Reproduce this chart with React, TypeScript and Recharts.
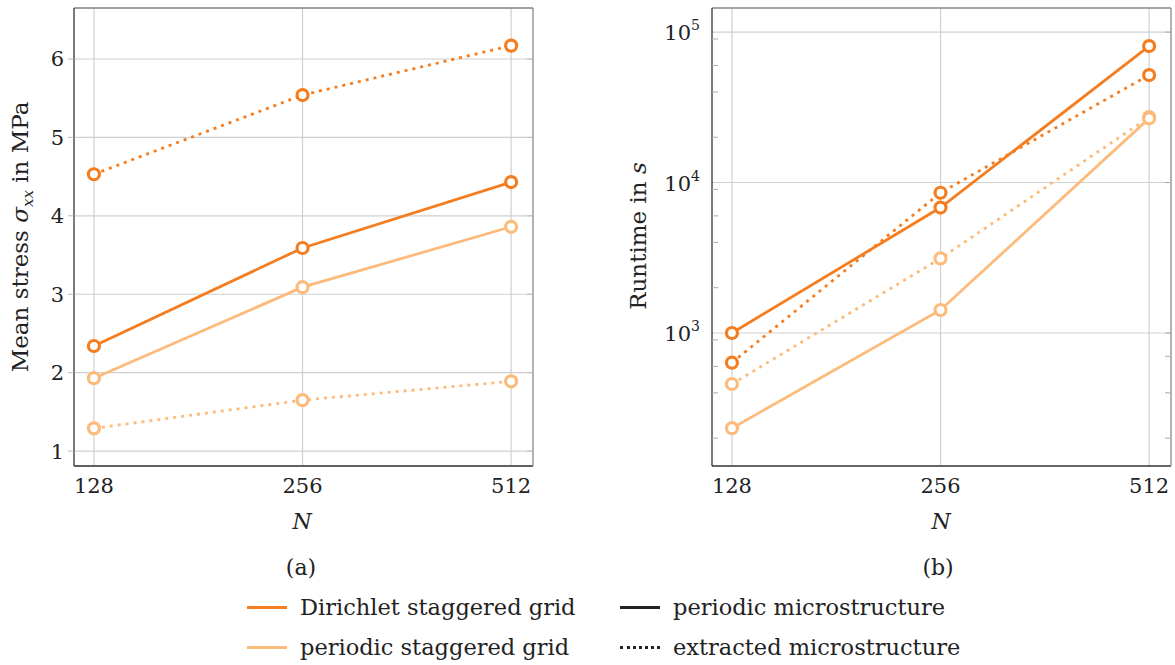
import React from "react";
import { LineChart, Line, XAxis, YAxis, CartesianGrid } from "recharts";

const DARK = "#f47d20";
const LIGHT = "#fdbb7b";
const FONT = "DejaVu Serif";

const N = [128, 256, 512];

// (a) mean stress in MPa
const stressDirichletPeriodic = [2.34, 3.59, 4.43];
const stressDirichletExtracted = [4.53, 5.54, 6.17];
const stressPeriodicPeriodic = [1.93, 3.09, 3.86];
const stressPeriodicExtracted = [1.29, 1.65, 1.89];
const stressTicks = [1, 2, 3, 4, 5, 6];

// (b) runtime in s
const runDirichletPeriodic = [1000, 6820, 80700];
const runDirichletExtracted = [635, 8550, 51800];
const runPeriodicPeriodic = [233, 1422, 26700];
const runPeriodicExtracted = [458, 3130, 27200];
const runTicks = [1000, 10000, 100000];
const runMinorTicks = [
  200, 300, 400, 500, 600, 700, 800, 900,
  2000, 3000, 4000, 5000, 6000, 7000, 8000, 9000,
  20000, 30000, 40000, 50000, 60000, 70000, 80000, 90000,
];

const stressData = N.map((n, i) => ({
  n,
  dp: stressDirichletPeriodic[i],
  de: stressDirichletExtracted[i],
  pp: stressPeriodicPeriodic[i],
  pe: stressPeriodicExtracted[i],
}));

const runData = N.map((n, i) => ({
  n,
  dp: runDirichletPeriodic[i],
  de: runDirichletExtracted[i],
  pp: runPeriodicPeriodic[i],
  pe: runPeriodicExtracted[i],
}));

const X_DOMAIN: [number, number] = [119.8, 550.6];

const dot = (color: string) => ({ r: 5.5, stroke: color, strokeWidth: 3.2, fill: "#fff", strokeDasharray: "none" });

function series() {
  return [
    <Line key="pe" dataKey="pe" stroke={LIGHT} strokeWidth={2.8} strokeDasharray="3 5" dot={dot(LIGHT)} isAnimationActive={false} />,
    <Line key="pp" dataKey="pp" stroke={LIGHT} strokeWidth={2.8} dot={dot(LIGHT)} isAnimationActive={false} />,
    <Line key="de" dataKey="de" stroke={DARK} strokeWidth={2.8} strokeDasharray="3 5" dot={dot(DARK)} isAnimationActive={false} />,
    <Line key="dp" dataKey="dp" stroke={DARK} strokeWidth={2.8} dot={dot(DARK)} isAnimationActive={false} />,
  ];
}

const Empty = () => <g />;

const PowTick = (props: any) => {
  const { x, y, payload } = props;
  const exp = Math.round(Math.log10(payload.value));
  return (
    <text x={x} y={y} textAnchor="end" fontFamily={FONT} fontSize={21} fill="#222">
      <tspan dy={8}>10</tspan>
      <tspan dy={-10} fontSize={14}>{exp}</tspan>
    </text>
  );
};

const tickStyle = { fontFamily: FONT, fontSize: 21, fill: "#222" };

function abs(left: number, top: number, extra: React.CSSProperties = {}): React.CSSProperties {
  return { position: "absolute", left, top, transform: "translate(-50%, -50%)", whiteSpace: "nowrap", ...extra };
}

const legendText: React.CSSProperties = { position: "absolute", transform: "translateY(-50%)", fontSize: 22.5, whiteSpace: "nowrap" };

export default function App() {
  return (
    <div style={{ position: "absolute", left: 0, top: 0, width: 1175, height: 665, background: "#fff", fontFamily: FONT, color: "#222" }}>
      <div style={{ position: "absolute", left: 0, top: 0 }}>
        <LineChart width={545} height={500} data={stressData} margin={{ top: 8, right: 12, left: 0, bottom: 0 }}>
          <CartesianGrid stroke="#d0d0d0" strokeWidth={1.2} verticalValues={N} />
          <XAxis dataKey="n" type="number" scale="log" domain={X_DOMAIN} allowDataOverflow ticks={N}
            height={34} tickLine={false} tickSize={6} tickMargin={6} tick={tickStyle}
            axisLine={{ stroke: "#333", strokeWidth: 1.3 }} />
          <XAxis xAxisId="top" orientation="top" dataKey="n" type="number" scale="log" domain={X_DOMAIN} allowDataOverflow
            mirror ticks={N} tick={<Empty />} tickLine={false} axisLine={{ stroke: "#888", strokeWidth: 1.3 }} />
          <YAxis domain={[0.81, 6.65]} allowDataOverflow ticks={stressTicks} width={74}
            tickSize={6} tickMargin={4} tick={tickStyle} tickLine={{ stroke: "#bbb" }}
            axisLine={{ stroke: "#333", strokeWidth: 1.3 }} />
          <YAxis yAxisId="right" orientation="right" mirror domain={[0.81, 6.65]} allowDataOverflow ticks={stressTicks}
            tick={<Empty />} tickSize={6} tickLine={{ stroke: "#bbb" }} axisLine={{ stroke: "#888", strokeWidth: 1.3 }} />
          {series()}
        </LineChart>
      </div>

      <div style={{ position: "absolute", left: 600, top: 0 }}>
        <LineChart width={575} height={500} data={runData} margin={{ top: 8, right: 4, left: 0, bottom: 0 }}>
          <CartesianGrid stroke="#d0d0d0" strokeWidth={1.2} verticalValues={N} horizontalValues={runTicks} />
          <XAxis dataKey="n" type="number" scale="log" domain={X_DOMAIN} allowDataOverflow ticks={N}
            height={34} tickLine={false} tickSize={6} tickMargin={6} tick={tickStyle}
            axisLine={{ stroke: "#333", strokeWidth: 1.3 }} />
          <XAxis xAxisId="top" orientation="top" dataKey="n" type="number" scale="log" domain={X_DOMAIN} allowDataOverflow
            mirror ticks={N} tick={<Empty />} tickLine={false} axisLine={{ stroke: "#888", strokeWidth: 1.3 }} />
          <YAxis scale="log" domain={[130.6, 144500]} allowDataOverflow ticks={runTicks} width={112}
            tickSize={6} tickMargin={6} tick={<PowTick />} tickLine={false}
            axisLine={{ stroke: "#333", strokeWidth: 1.3 }} />
          <YAxis yAxisId="minorLeft" mirror scale="log" domain={[130.6, 144500]} allowDataOverflow ticks={runMinorTicks}
            tick={<Empty />} tickSize={6} tickLine={{ stroke: "#aaa" }} axisLine={false} />
          <YAxis yAxisId="minorRight" orientation="right" mirror scale="log" domain={[130.6, 144500]} allowDataOverflow
            ticks={[...runMinorTicks, ...runTicks]} tick={<Empty />} tickSize={6} tickLine={{ stroke: "#aaa" }}
            axisLine={{ stroke: "#888", strokeWidth: 1.3 }} />
          {series()}
        </LineChart>
      </div>

      <div style={abs(22, 237, { transform: "translate(-50%, -50%) rotate(-90deg)", fontSize: 23 })}>
        Mean stress <i>σ</i><sub style={{ fontSize: 15 }}><i>xx</i></sub> in MPa
      </div>
      <div style={abs(638, 236, { transform: "translate(-50%, -50%) rotate(-90deg)", fontSize: 23 })}>
        Runtime in <i>s</i>
      </div>
      <div style={abs(302, 521, { fontSize: 22, fontStyle: "italic" })}>N</div>
      <div style={abs(941, 521, { fontSize: 22, fontStyle: "italic" })}>N</div>
      <div style={abs(301, 567, { fontSize: 22 })}>(a)</div>
      <div style={abs(938, 567, { fontSize: 22 })}>(b)</div>

      <div style={{ position: "absolute", left: 247, top: 606, width: 40, borderTop: `3px solid ${DARK}` }} />
      <div style={{ ...legendText, left: 300, top: 607 }}>Dirichlet staggered grid</div>
      <div style={{ position: "absolute", left: 247, top: 646, width: 40, borderTop: `3px solid ${LIGHT}` }} />
      <div style={{ ...legendText, left: 300, top: 647 }}>periodic staggered grid</div>
      <div style={{ position: "absolute", left: 620, top: 606, width: 40, borderTop: "3px solid #222" }} />
      <div style={{ ...legendText, left: 673, top: 607 }}>periodic microstructure</div>
      <div style={{ position: "absolute", left: 620, top: 646, width: 40, borderTop: "3px dotted #222" }} />
      <div style={{ ...legendText, left: 673, top: 647 }}>extracted microstructure</div>
    </div>
  );
}
